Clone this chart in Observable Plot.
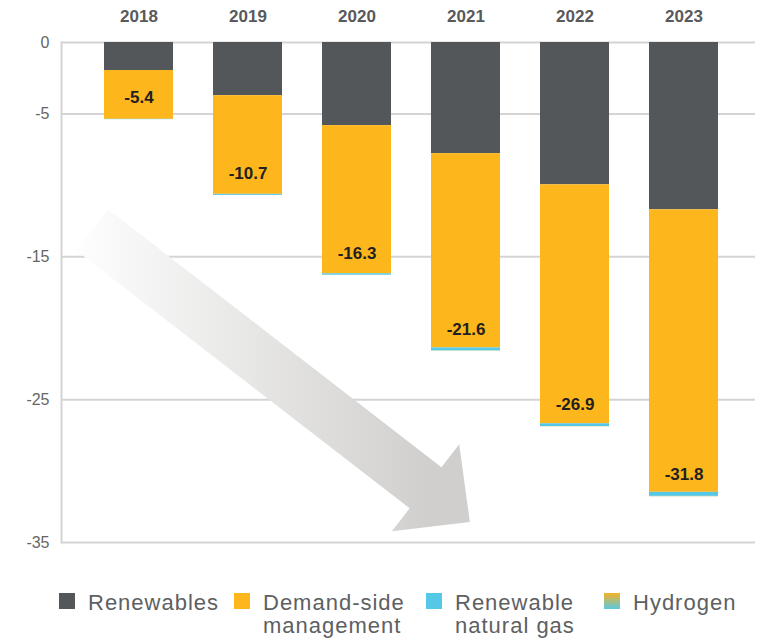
<!DOCTYPE html>
<html><head><meta charset="utf-8">
<script src="https://cdn.jsdelivr.net/npm/d3@7"></script>
<script src="https://cdn.jsdelivr.net/npm/@observablehq/plot@0.6"></script>
<style>
body{margin:0;background:#fff;font-family:"Liberation Sans",Arial,sans-serif;}
#chart{width:760px;height:560px;}
.legend{position:relative;height:82px;width:760px;}
.item{position:absolute;top:31px;display:flex;align-items:flex-start;font-size:22px;line-height:23px;color:#5d6062;letter-spacing:1px;}
.sw{width:16px;height:16px;margin-top:2px;margin-right:13px;flex:none;}
</style></head><body>
<div id="chart"></div>
<div class="legend" id="legend"></div>
<script>
const years = ["2018", "2019", "2020", "2021", "2022", "2023"];
const seriesNames = ["Renewables", "Demand-side management", "Renewable natural gas", "Hydrogen"];
const seriesColors = ["#54575a", "#fdb61c", "#55c8e8", "#a9c07a"];
const legendLabels = ["Renewables", "Demand-side<br>management", "Renewable<br>natural gas", "Hydrogen"];
const renewables   = [-1.96, -3.72, -5.82, -7.78, -9.96, -11.71];
const demandSide   = [-3.42, -6.91, -10.37, -13.60, -16.73, -19.78];
const renewableGas = [-0.02, -0.07, -0.10, -0.20, -0.19, -0.28];
const hydrogen     = [0, 0, -0.01, -0.02, -0.02, -0.03];
const totals       = [-5.4, -10.7, -16.3, -21.6, -26.9, -31.8];
const yTicks = [0, -5, -15, -25, -35];

const seriesValues = [renewables, demandSide, renewableGas, hydrogen];
const long = [];
years.forEach((yr, i) => {
  seriesNames.forEach((s, k) => long.push({year: yr, series: s, value: seriesValues[k][i]}));
});
const totalRows = years.map((yr, i) => ({year: yr, total: totals[i]}));

// decorative trend arrow, anchored to data positions
const arrowStart = {year: "2018", shift: -0.426, value: -13.15};
const arrowEnd = {year: "2021", shift: 0.04, value: -33.6};

function arrowMark(index, scales) {
  const x = scales.x, y = scales.y;
  const step = x(years[1]) - x(years[0]);
  const bw = typeof x.bandwidth === "function" ? x.bandwidth() : step * 0.63;
  const sx = x(arrowStart.year) + bw / 2 + arrowStart.shift * step, sy = y(arrowStart.value);
  const tx = x(arrowEnd.year) + bw / 2 + arrowEnd.shift * step, ty = y(arrowEnd.value);
  const len = Math.hypot(tx - sx, ty - sy);
  const ux = (tx - sx) / len, uy = (ty - sy) / len, nx = -uy, ny = ux;
  const hw = 26, hh = 55, hl = 56;
  const bx = tx - hl * ux, by = ty - hl * uy;
  const pts = [
    [sx - hw * nx, sy - hw * ny], [bx - hw * nx, by - hw * ny], [bx - hh * nx, by - hh * ny],
    [tx, ty], [bx + hh * nx, by + hh * ny], [bx + hw * nx, by + hw * ny], [sx + hw * nx, sy + hw * ny]
  ];
  const g = d3.create("svg:g");
  const grad = g.append("defs").append("linearGradient")
    .attr("id", "arrowGrad").attr("gradientUnits", "userSpaceOnUse")
    .attr("x1", sx - 10).attr("y1", 0).attr("x2", tx - 40).attr("y2", 0);
  grad.append("stop").attr("offset", 0).attr("stop-color", "#fdfdfd");
  grad.append("stop").attr("offset", 1).attr("stop-color", "#d0cfcd");
  g.append("path").attr("d", "M" + pts.map(p => p.join(",")).join("L") + "Z")
    .attr("fill", "url(#arrowGrad)");
  return g.node();
}

const chart = Plot.plot({
  width: 760, height: 560,
  marginTop: 42, marginBottom: 18, marginLeft: 61, marginRight: 5,
  style: {fontFamily: '"Liberation Sans", Arial, sans-serif', background: "#fff"},
  x: {domain: years, range: [63, 759], paddingInner: 0.37, paddingOuter: 0.37, axis: null},
  y: {domain: [-35, 0], axis: null},
  color: {domain: seriesNames, range: seriesColors},
  marks: [
    Plot.ruleY(yTicks, {stroke: "#d4d4d4", strokeWidth: 2}),
    Plot.frame({anchor: "left", stroke: "#d4d4d4", strokeWidth: 2}),
    arrowMark,
    Plot.barY(long, {x: "year", y: "value", fill: "series", order: seriesNames}),
    Plot.text(totalRows, {x: "year", y: "total", text: d => d.total.toFixed(1), dy: -22,
      fontSize: 17, fontWeight: "bold", fill: "#231f20"}),
    Plot.axisX({anchor: "top", label: null, tickSize: 0, tickPadding: 21, fontSize: 17, fontWeight: "bold", color: "#58595b"}),
    Plot.axisY({ticks: yTicks, label: null, tickSize: 0, tickPadding: 12, fontSize: 16, color: "#666",
      tickFormat: d => String(d)})
  ]
});
document.getElementById("chart").appendChild(chart);

const lefts = [59, 234, 426, 604];
const legend = document.getElementById("legend");
seriesNames.forEach((s, k) => {
  const it = document.createElement("div");
  it.className = "item";
  it.style.left = lefts[k] + "px";
  const sw = document.createElement("span");
  sw.className = "sw";
  sw.style.background = k === 3 ? "linear-gradient(#f5b324, #5bc8e3)" : seriesColors[k];
  const tx = document.createElement("span");
  tx.innerHTML = legendLabels[k];
  it.appendChild(sw); it.appendChild(tx);
  legend.appendChild(it);
});
</script>
</body></html>
